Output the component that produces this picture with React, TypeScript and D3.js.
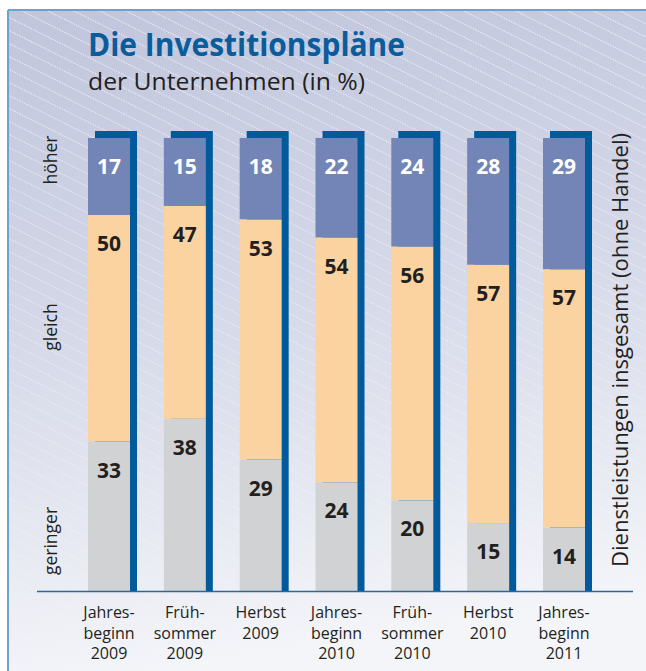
import * as React from 'react';
import * as d3 from 'd3';

const categories = [
  ['Jahres-', 'beginn', '2009'],
  ['Früh-', 'sommer', '2009'],
  ['Herbst', '2009'],
  ['Jahres-', 'beginn', '2010'],
  ['Früh-', 'sommer', '2010'],
  ['Herbst', '2010'],
  ['Jahres-', 'beginn', '2011'],
];
const hoeher = [17, 15, 18, 22, 24, 28, 29];
const gleich = [50, 47, 53, 54, 56, 57, 57];
const geringer = [33, 38, 29, 24, 20, 15, 14];
const rowLabels = ['höher', 'gleich', 'geringer'];

const W = 646;
const H = 671;
const FONT = '"Open Sans", "Noto Sans", sans-serif';

export default function App() {
  const svgRef = React.useRef<SVGSVGElement>(null);

  React.useEffect(() => {
    if (!svgRef.current) return;
    const svg = d3.select(svgRef.current);
    svg.selectAll('*').remove();

    const keys = categories.map((c) => c.join(' '));
    const x = d3.scaleBand<string>().domain(keys).range([88, 585]).paddingInner(0.446).paddingOuter(0);
    const y = d3.scaleLinear().domain([0, 100]).range([591, 138]);
    const bw = x.bandwidth();

    const defs = svg.append('defs');
    const bg = defs.append('linearGradient').attr('id', 'bg').attr('x1', 0).attr('y1', 0).attr('x2', 0.15).attr('y2', 1);
    bg.append('stop').attr('offset', '0').attr('stop-color', '#c0c5dc');
    bg.append('stop').attr('offset', '0.45').attr('stop-color', '#d3d7e7');
    bg.append('stop').attr('offset', '1').attr('stop-color', '#f4f5f9');

    const pat = defs
      .append('pattern')
      .attr('id', 'hatch')
      .attr('patternUnits', 'userSpaceOnUse')
      .attr('width', 26)
      .attr('height', 13);
    pat
      .append('line')
      .attr('x1', 0)
      .attr('y1', 0)
      .attr('x2', 26)
      .attr('y2', 13)
      .attr('stroke', '#ffffff')
      .attr('stroke-width', 1)
      .attr('stroke-dasharray', '1.5 1.2');

    const fade = defs.append('linearGradient').attr('id', 'fade').attr('x1', 0).attr('y1', 0).attr('x2', 0).attr('y2', 1);
    fade.append('stop').attr('offset', '0').attr('stop-color', '#fff').attr('stop-opacity', 0.85);
    fade.append('stop').attr('offset', '1').attr('stop-color', '#fff').attr('stop-opacity', 0.25);
    defs
      .append('mask')
      .attr('id', 'fadeMask')
      .append('rect')
      .attr('x', 8)
      .attr('y', 10)
      .attr('width', W)
      .attr('height', H)
      .attr('fill', 'url(#fade)');

    // background frame
    svg.append('rect').attr('x', 8).attr('y', 10).attr('width', W).attr('height', H).attr('fill', 'url(#bg)');
    svg
      .append('rect')
      .attr('x', 8)
      .attr('y', 10)
      .attr('width', W)
      .attr('height', H)
      .attr('fill', 'url(#hatch)')
      .attr('mask', 'url(#fadeMask)');
    svg.append('line').attr('x1', 8).attr('y1', 10).attr('x2', W).attr('y2', 10).attr('stroke', '#6ba3c9').attr('stroke-width', 2);
    svg.append('line').attr('x1', 8).attr('y1', 10).attr('x2', 8).attr('y2', H).attr('stroke', '#6ba3c9').attr('stroke-width', 2);

    // title
    svg
      .append('text')
      .attr('x', 88)
      .attr('y', 56)
      .attr('font-family', FONT)
      .attr('font-weight', 700)
      .attr('font-size', 32)
      .attr('fill', '#0b5c9c')
      .attr('textLength', 317)
      .attr('lengthAdjust', 'spacingAndGlyphs')
      .text('Die Investitionspläne');
    svg
      .append('text')
      .attr('x', 88)
      .attr('y', 90)
      .attr('font-family', FONT)
      .attr('font-size', 24)
      .attr('fill', '#231f20')
      .attr('textLength', 277)
      .attr('lengthAdjust', 'spacingAndGlyphs')
      .text('der Unternehmen (in %)');

    const data = keys.map((k, i) => ({ k, h: hoeher[i], g: gleich[i], r: geringer[i] }));
    const bars = svg.selectAll('g.bar').data(data).enter().append('g').attr('class', 'bar');

    // shadow
    bars
      .append('rect')
      .attr('x', (d) => (x(d.k) as number) + 7)
      .attr('y', y(100) - 7)
      .attr('width', bw)
      .attr('height', y(0) - y(100) + 7)
      .attr('fill', '#005a9b');

    const segs = (d: any) => [
      { y0: d.r + d.g, y1: 100, v: d.h, fill: '#7385b7', tc: '#ffffff' },
      { y0: d.r, y1: d.r + d.g, v: d.g, fill: '#fbd3a0', tc: '#231f20' },
      { y0: 0, y1: d.r, v: d.r, fill: '#d1d2d4', tc: '#231f20' },
    ];
    bars.each(function (d) {
      const g = d3.select(this);
      const x0 = x(d.k) as number;
      segs(d).forEach((s) => {
        g.append('rect')
          .attr('x', x0)
          .attr('y', y(s.y1))
          .attr('width', bw)
          .attr('height', y(s.y0) - y(s.y1))
          .attr('fill', s.fill);
        g.append('text')
          .attr('x', x0 + bw / 2)
          .attr('y', y(s.y1) + 36)
          .attr('text-anchor', 'middle')
          .attr('font-family', FONT)
          .attr('font-weight', 700)
          .attr('font-size', 21)
          .attr('fill', s.tc)
          .text(s.v);
      });
      const lab = g
        .append('text')
        .attr('text-anchor', 'middle')
        .attr('font-family', FONT)
        .attr('font-size', 16)
        .attr('fill', '#231f20');
      categories[keys.indexOf(d.k)].forEach((t, j) => {
        lab
          .append('tspan')
          .attr('x', x0 + bw / 2)
          .attr('y', 618 + j * 20.5)
          .text(t);
      });
    });

    // baseline
    svg
      .append('line')
      .attr('x1', 37)
      .attr('x2', 633)
      .attr('y1', y(0) + 0.5)
      .attr('y2', y(0) + 0.5)
      .attr('stroke', '#2a67a0')
      .attr('stroke-width', 1.5);

    // row labels
    const rowY = [160, 327, 541];
    rowLabels.forEach((t, i) => {
      svg
        .append('text')
        .attr('transform', `translate(57,${rowY[i]}) rotate(-90)`)
        .attr('text-anchor', 'middle')
        .attr('font-family', FONT)
        .attr('font-size', 17.5)
        .attr('fill', '#231f20')
        .text(t);
    });

    svg
      .append('text')
      .attr('transform', `translate(628,350) rotate(-90)`)
      .attr('text-anchor', 'middle')
      .attr('font-family', FONT)
      .attr('font-size', 21)
      .attr('fill', '#231f20')
      .attr('textLength', 434)
      .attr('lengthAdjust', 'spacingAndGlyphs')
      .text('Dienstleistungen insgesamt (ohne Handel)');
  }, []);

  return (
    <svg
      ref={svgRef}
      width={W}
      height={H}
      style={{ position: 'absolute', left: 0, top: 0, display: 'block' }}
    />
  );
}
